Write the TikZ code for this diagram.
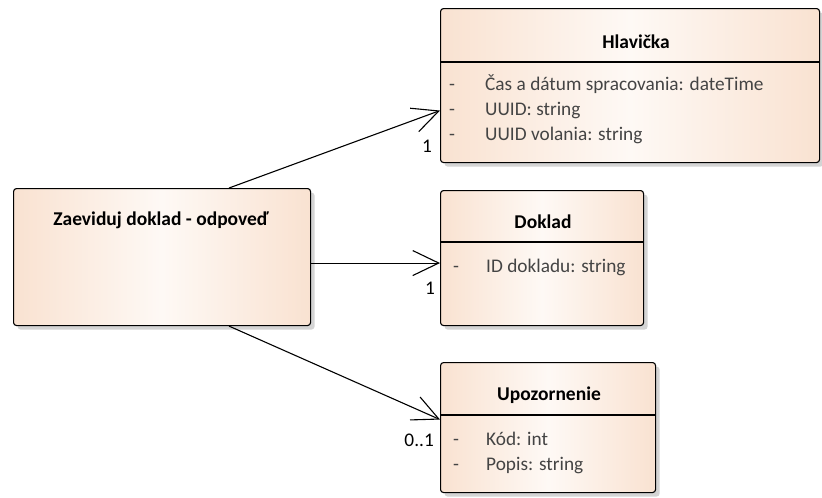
\documentclass[tikz,border=0pt]{standalone}
\usepackage{fontspec}
\setmainfont{Carlito}
\usetikzlibrary{arrows.meta, shadows, positioning}
\definecolor{PEACH}{RGB}{249,226,209}
\definecolor{PEACHLIGHT}{RGB}{254,249,245}
\definecolor{ATTRGRAY}{RGB}{68,68,68}
\definecolor{SHADOWGRAY}{RGB}{212,212,212}

\begin{document}
\begin{tikzpicture}[x=1pt, y=-1pt,
  classbox/.style={draw, line width=1.1pt, rounded corners=3pt, anchor=north west, inner sep=0pt,
    left color=PEACH, right color=PEACH, middle color=PEACHLIGHT,
    drop shadow={shadow xshift=4pt, shadow yshift=-4pt, fill=SHADOWGRAY, opacity=1}},
  classtitle/.style={font=\fontsize{19.5}{23}\selectfont\bfseries},
  attr/.style={anchor=west, inner sep=0pt, text height=13pt, text depth=4pt,
    text=ATTRGRAY, font=\fontsize{19.3}{23}\selectfont},
  mult/.style={inner sep=0pt, font=\fontsize{19.3}{23}\selectfont},
  assoc/.style={line width=1.1pt, -{Straight Barb[length=26pt, width=25pt]}}]
\useasboundingbox[fill=white] (0,0) rectangle (822,498);

% boxes
\node[classbox, minimum width=297, minimum height=137] (odpoved) at (13,188) {};
\node[classbox, minimum width=379, minimum height=154] (hlavicka) at (440,8) {};
\node[classbox, minimum width=203, minimum height=135] (doklad) at (440,190) {};
\node[classbox, minimum width=215, minimum height=130] (upozornenie) at (440,362) {};

% header lines
\draw[line width=1.1pt] (hlavicka.west |- 0,62) -- (hlavicka.east |- 0,62);
\draw[line width=1.1pt] (doklad.west |- 0,242) -- (doklad.east |- 0,242);
\draw[line width=1.1pt] (upozornenie.west |- 0,415) -- (upozornenie.east |- 0,415);

% names
\node[classtitle] (odpovedT) at (161,220) {Zaeviduj doklad - odpoveď};
\node[classtitle] (hlavickaT) at (636,42) {Hlavička};
\node[classtitle] (dokladT) at (543,222) {Doklad};
\node[classtitle] (upozornenieT) at (549,395) {Upozornenie};

% attributes
\node[attr] at (449,86) {-};
\node[attr] (cas) at (485,86) {Čas a dátum spracovania: dateTime};
\node[attr] at (449,111) {-};
\node[attr] (uuid) at (485,111) {UUID: string};
\node[attr] at (449,136) {-};
\node[attr] (uuidvol) at (485,136) {UUID volania: string};
\node[attr] at (453,268) {-};
\node[attr] (iddokl) at (486,268) {ID dokladu: string};
\node[attr] at (453,441) {-};
\node[attr] (kod) at (486,441) {Kód: int};
\node[attr] at (453,466) {-};
\node[attr] (popis) at (486,466) {Popis: string};

% associations
\draw[assoc] ([xshift=67pt]odpoved.north) -- ([yshift=-25pt]hlavicka.west);
\draw[assoc] ([yshift=-6pt]odpoved.east) -- ([yshift=-5pt]doklad.west);
\draw[assoc] ([xshift=67pt]odpoved.south) -- ([yshift=8pt]upozornenie.west);

% multiplicities
\node[mult] (m1) at (427,146) {1};
\node[mult] (m2) at (430,288) {1};
\node[mult, anchor=east] (m3) at (434,440) {0..1};
\end{tikzpicture}
\end{document}
